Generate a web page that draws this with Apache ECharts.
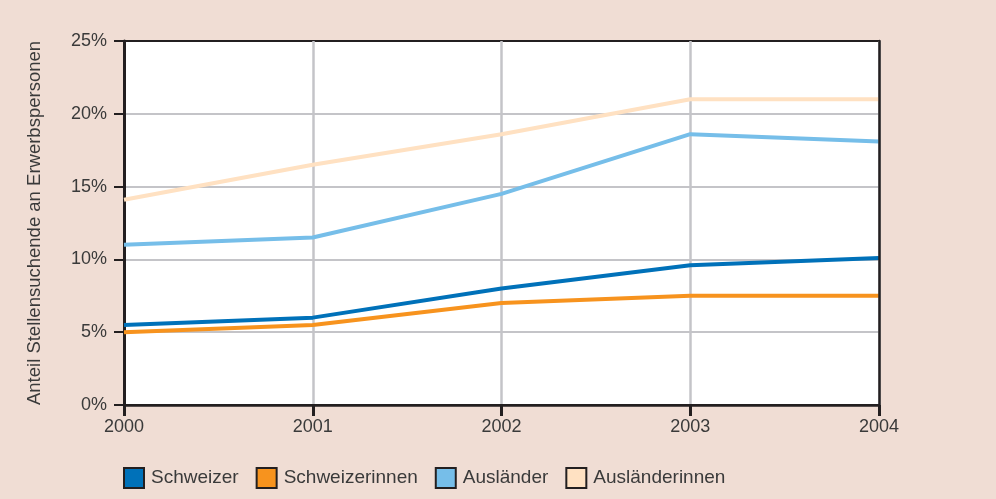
<!DOCTYPE html>
<html>
<head>
<meta charset="utf-8">
<script src="https://cdn.jsdelivr.net/npm/echarts@6/dist/echarts.min.js"></script>
<style>
    html, body { margin: 0; padding: 0; background: #f0ddd4; }
    #chart { width: 996px; height: 499px; }
</style>
</head>
<body>
<div id="chart"></div>
<script>
let years = ['2000', '2001', '2002', '2003', '2004'];
let seriesNames = ['Schweizer', 'Schweizerinnen', 'Ausländer', 'Ausländerinnen'];
let schweizer = [5.5, 6.0, 8.0, 9.6, 10.1];
let schweizerinnen = [5.0, 5.5, 7.0, 7.5, 7.5];
let auslaender = [11.0, 11.5, 14.5, 18.6, 18.1];
let auslaenderinnen = [14.1, 16.5, 18.6, 21.0, 21.0];
let colors = ['#0071b9', '#f7931e', '#76bee9', '#ffe1c2'];

let dark = '#231f20';
let textColor = '#3a3a3a';
let gridColor = '#c4c4c8';
let font = 'Liberation Sans';

function makeSeries(name, data, color) {
    return {
        name: name,
        type: 'line',
        data: data,
        symbol: 'none',
        color: color,
        lineStyle: { width: 4, color: color },
        itemStyle: { color: color }
    };
}

let chart = echarts.init(document.getElementById('chart'));
chart.setOption({
    backgroundColor: '#f0ddd4',
    animation: false,
    textStyle: { fontFamily: font },
    grid: {
        left: 124,
        right: 117,
        top: 41,
        bottom: 94,
        show: true,
        backgroundColor: '#ffffff',
        borderWidth: 0
    },
    legend: {
        left: 118,
        top: 462,
        icon: 'rect',
        itemWidth: 20,
        itemHeight: 20,
        itemGap: 17,
        data: seriesNames,
        itemStyle: { borderColor: dark, borderWidth: 2 },
        textStyle: { fontSize: 19, color: textColor, fontFamily: font, padding: [0, 0, 0, 2] }
    },
    xAxis: [
        {
            type: 'category',
            boundaryGap: false,
            data: years,
            axisLine: { lineStyle: { color: dark, width: 2.5 } },
            axisTick: { show: true, length: 11, lineStyle: { color: dark, width: 3 } },
            axisLabel: { color: textColor, fontSize: 18, margin: 13 },
            splitLine: { show: true, lineStyle: { color: gridColor, width: 2.5 } },
            z: 3
        },
        {
            type: 'category',
            position: 'top',
            boundaryGap: false,
            data: years,
            axisLine: { show: true, lineStyle: { color: dark, width: 2 } },
            axisTick: { show: false },
            axisLabel: { show: false },
            splitLine: { show: false },
            z: 5
        }
    ],
    yAxis: [
        {
            type: 'value',
            min: 0,
            max: 25,
            interval: 5,
            name: 'Anteil Stellensuchende an Erwerbspersonen',
            nameLocation: 'middle',
            nameGap: 80,
            nameTextStyle: { color: textColor, fontSize: 18.5 },
            axisLine: { show: true, lineStyle: { color: dark, width: 3 } },
            axisTick: { show: true, length: 10, lineStyle: { color: dark, width: 2 } },
            axisLabel: { color: textColor, fontSize: 18, margin: 17, formatter: '{value}%' },
            splitLine: {
                show: true,
                lineStyle: { color: [gridColor, gridColor, gridColor, gridColor, gridColor, dark], width: 2 }
            },
            z: 3
        },
        {
            type: 'value',
            position: 'right',
            min: 0,
            max: 25,
            interval: 5,
            axisLine: { show: true, lineStyle: { color: dark, width: 2.5 } },
            axisTick: { show: false },
            axisLabel: { show: false },
            splitLine: { show: false },
            z: 5
        }
    ],
    series: [
        makeSeries(seriesNames[0], schweizer, colors[0]),
        makeSeries(seriesNames[1], schweizerinnen, colors[1]),
        makeSeries(seriesNames[2], auslaender, colors[2]),
        makeSeries(seriesNames[3], auslaenderinnen, colors[3])
    ]
});
</script>
</body>
</html>
